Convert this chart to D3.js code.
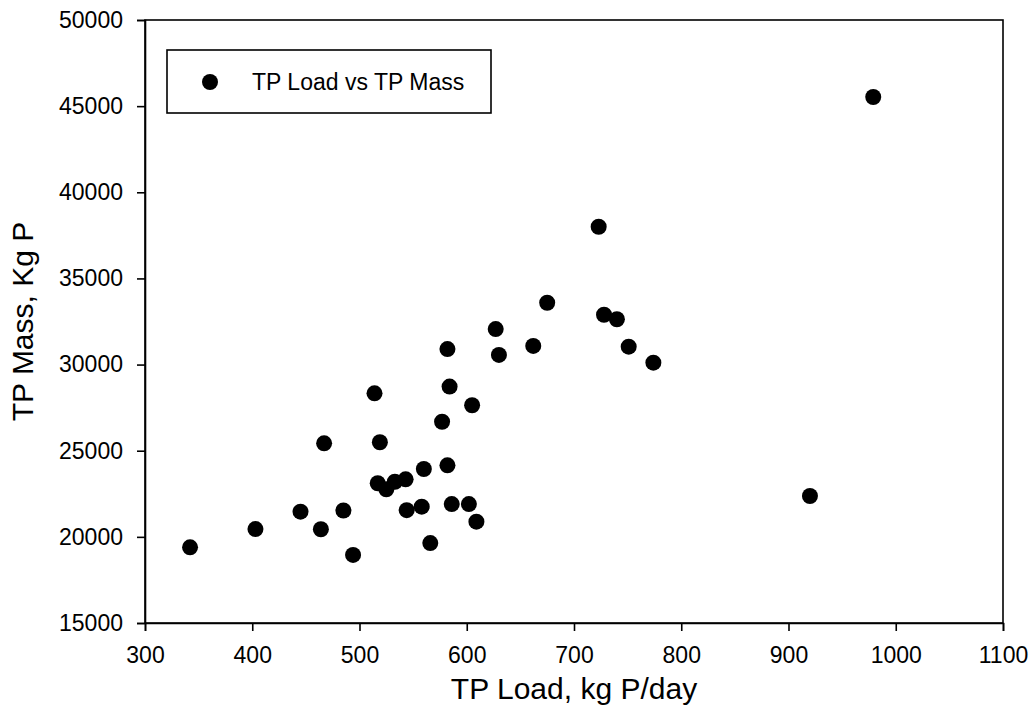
<!DOCTYPE html>
<html>
<head>
<meta charset="utf-8">
<script src="https://cdn.jsdelivr.net/npm/d3@7"></script>
<style>
  html, body { margin: 0; padding: 0; background: #fff; }
  svg { display: block; }
  text { font-family: Arial, "Liberation Sans", sans-serif; fill: #000; }
</style>
</head>
<body>
<svg id="chart" width="1034" height="724"></svg>
<script>
// TP load (kg P/day) and matching TP mass (kg P)
const loadValues = [342, 403, 445, 464, 467, 485, 494, 514, 517, 519, 525, 533, 543, 544,
  558, 560, 566, 577, 582, 582, 584, 586, 602, 605, 609, 627, 630, 662, 675, 723, 728,
  740, 751, 774, 920, 979];
const massValues = [19390, 20450, 21460, 20440, 25430, 21530, 18950, 28330, 23110, 25490,
  22760, 23200, 23340, 21550, 21750, 23940, 19640, 26680, 24150, 30900, 28720, 21900,
  21900, 27640, 20880, 32060, 30560, 31080, 33590, 38000, 32890, 32630, 31040, 30110,
  22370, 45530];

const xTicks = [300, 400, 500, 600, 700, 800, 900, 1000, 1100];
const yTicks = [15000, 20000, 25000, 30000, 35000, 40000, 45000, 50000];

const seriesName = "TP Load vs TP Mass";
const xTitle = "TP Load, kg P/day";
const yTitle = "TP Mass, Kg P";

const W = 1034, H = 724;
const margin = { top: 20, right: 31, bottom: 101, left: 145 };
const plotW = W - margin.left - margin.right;
const plotH = H - margin.top - margin.bottom;

const svg = d3.select("#chart");
const g = svg.append("g").attr("transform", `translate(${margin.left},${margin.top})`);

const x = d3.scaleLinear().domain([300, 1100]).range([0, plotW]);
const y = d3.scaleLinear().domain([15000, 50000]).range([plotH, 0]);

// frame around the plot area
g.append("rect")
  .attr("x", 0).attr("y", 0)
  .attr("width", plotW).attr("height", plotH)
  .attr("fill", "none").attr("stroke", "#000").attr("stroke-width", 1.6);

const xAxis = g.append("g")
  .attr("transform", `translate(0,${plotH})`)
  .call(d3.axisBottom(x).tickValues(xTicks).tickFormat(d3.format("d")).tickSize(8).tickPadding(16));
const yAxis = g.append("g")
  .call(d3.axisLeft(y).tickValues(yTicks).tickFormat(d3.format("d")).tickSize(8).tickPadding(14));

[xAxis, yAxis].forEach(a => {
  a.select(".domain").attr("stroke", "#000").attr("stroke-width", 1.6);
  a.selectAll(".tick line").attr("stroke", "#000").attr("stroke-width", 1.6);
  a.selectAll(".tick text")
    .style("font-family", "Arial, 'Liberation Sans', sans-serif")
    .style("font-size", "23px")
    .attr("fill", "#000");
});

// axis titles
svg.append("text")
  .attr("x", margin.left + plotW / 2)
  .attr("y", 699)
  .attr("text-anchor", "middle")
  .style("font-size", "30px")
  .text(xTitle);

svg.append("text")
  .attr("transform", `translate(33,${margin.top + plotH / 2}) rotate(-90)`)
  .attr("text-anchor", "middle")
  .style("font-size", "30px")
  .text(yTitle);

// data points
const points = loadValues.map((v, i) => ({ load: v, mass: massValues[i] }));
g.selectAll("circle.pt")
  .data(points)
  .join("circle")
  .attr("class", "pt")
  .attr("cx", d => x(d.load))
  .attr("cy", d => y(d.mass))
  .attr("r", 8)
  .attr("fill", "#000");

// legend
const legend = svg.append("g").attr("transform", "translate(167,50)");
legend.append("rect")
  .attr("width", 324).attr("height", 63)
  .attr("fill", "#fff").attr("stroke", "#000").attr("stroke-width", 1.6);
legend.append("circle").attr("cx", 43).attr("cy", 32).attr("r", 8).attr("fill", "#000");
legend.append("text")
  .attr("x", 85).attr("y", 40)
  .style("font-size", "23px")
  .text(seriesName);
</script>
</body>
</html>
